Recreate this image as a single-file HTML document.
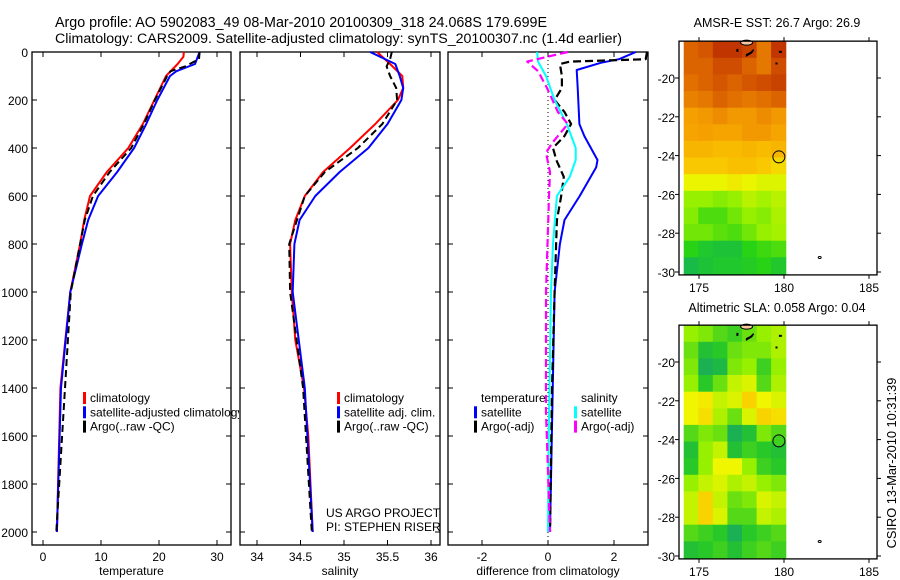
<!DOCTYPE html>
<html><head><meta charset="utf-8"><style>
html,body{margin:0;padding:0;background:#fff;}
svg{display:block;font-family:"Liberation Sans",sans-serif;}
</style></head><body>
<svg id="fig" width="900" height="580" viewBox="0 0 900 580">
<defs><clipPath id="legclip"><rect x="0" y="0" width="239" height="580"/></clipPath></defs>
<text x="55" y="27" font-size="14.3">Argo profile: AO 5902083_49 08-Mar-2010 20100309_318 24.068S 179.699E</text>
<text x="55" y="43" font-size="14.2">Climatology: CARS2009. Satellite-adjusted climatology: synTS_20100307.nc (1.4d earlier)</text>
<text x="777" y="27" font-size="12.5" text-anchor="middle">AMSR-E SST: 26.7 Argo: 26.9</text>
<text x="777" y="312" font-size="12.5" text-anchor="middle">Altimetric SLA: 0.058 Argo: 0.04</text>
<text transform="translate(896,463) rotate(-90)" font-size="12.8" text-anchor="middle">CSIRO 13-Mar-2010 10:31:39</text>
</svg>
<script>
// ---- data ----
const depthTicks = [0,200,400,600,800,1000,1200,1400,1600,1800,2000];
const tempTicks = [0,10,20,30];
const salTicks = [34,34.5,35,35.5,36];
const diffTicks = [-2,0,2];
const lonTicks = [175,180,185];
const latTicks = [20,22,24,26,28,30];

const tClimDepth = [0,20,50,100,200,300,400,500,600,700,800,1000,1400,2000];
const tClim      = [24.3,24.2,23.2,21.2,19.2,17.2,14.7,11,8.1,7.1,6.4,4.7,3.0,2.4];
const tSatDepth  = [0,50,80,100,200,300,400,500,600,700,800,1000,1400,2000];
const tSat       = [27,26.2,23,21.9,19.7,17.8,15.7,12.8,9.5,7.8,6.7,4.7,3.1,2.4];
const tArgoDepth = [0,30,60,80,100,200,300,400,500,600,700,800,1000,2000];
const tArgo      = [27,26.9,24.5,22,21.4,19.3,17.4,15.2,11.5,8.6,7.2,6.4,4.8,2.3];

const sClimDepth = [0,50,100,150,200,300,400,500,600,700,800,1000,1200,1400,1600,2000];
const sClim      = [35.38,35.53,35.67,35.68,35.62,35.36,35.07,34.76,34.55,34.44,34.38,34.40,34.44,34.54,34.59,34.64];
const sSatDepth  = [0,50,100,150,200,300,400,500,600,700,800,1000,1400,2000];
const sSat       = [35.3,35.59,35.64,35.68,35.66,35.5,35.28,34.95,34.67,34.49,34.43,34.41,34.55,34.64];
const sArgoDepth = [0,30,60,100,150,200,300,400,500,600,800,1000,1400,2000];
const sArgo      = [35.55,35.53,35.49,35.53,35.6,35.61,35.44,35.16,34.78,34.55,34.37,34.38,34.53,34.63];

const dTSatDepth = [0,30,45,75,150,300,350,450,480,600,700,800,1000,2000];
const dTSat      = [2.66,2.15,1.6,0.87,0.9,0.95,1.1,1.5,1.46,0.96,0.5,0.36,0.2,0.06];
const dTArgoDepth= [0,30,40,50,100,150,200,250,300,350,400,450,520,600,700,1000,1400,2000];
const dTArgo     = [3,2.96,0.66,0.36,0.42,0.42,0.2,0.5,0.7,0.5,0.15,0.25,0.48,0.4,0.27,0.2,0.12,0.06];
const dSSatDepth = [0,40,100,200,300,400,450,520,600,800,1000,1600,2000];
const dSSat      = [-0.33,-0.3,-0.06,0.2,0.57,0.84,0.84,0.66,0.27,0.15,0.09,0.02,0];
const dSArgoDepth= [0,20,40,80,150,250,300,380,420,500,600,1000,1500,2000];
const dSArgo     = [0.6,-0.03,-0.63,-0.3,-0.03,0.3,0.6,0.12,-0.06,0.06,0.03,-0.06,-0.06,0.06];

const sstGrid = [
[.85,.88,.95,.95,.92,.8,.95],[.85,.85,.9,.9,.85,.8,.9],[.82,.85,.88,.85,.88,.9,.92],
[.78,.8,.85,.82,.8,.82,.85],[.7,.72,.75,.72,.72,.75,.72],[.68,.7,.68,.68,.72,.72,.68],
[.62,.62,.6,.6,.62,.6,.62],[.55,.55,.55,.58,.58,.55,.5],[.42,.42,.42,.45,.42,.4,.4],
[.3,.3,.28,.3,.35,.32,.35],[.28,.2,.2,.25,.3,.28,.33],[.25,.25,.22,.2,.25,.3,.32],
[.15,.1,.08,.08,.15,.18,.2],[.05,.08,.1,.1,.12,.15,.1]];
const slaGrid = [
[.5,.45,.35,.3,.4,.5,.55],[.4,.2,.25,.4,.45,.45,.55],[.45,.1,.15,.45,.5,.3,.5],
[.5,.25,.4,.6,.65,.35,.55],[.7,.75,.6,.65,.85,.7,.65],[.7,.8,.55,.4,.65,.85,.8],
[.35,.45,.4,.1,.2,.45,.35],[.2,.5,.6,.2,.3,.25,.2],[.25,.5,.7,.7,.5,.3,.25],
[.5,.6,.65,.55,.6,.5,.45],[.6,.85,.6,.4,.45,.65,.6],[.6,.85,.65,.35,.35,.6,.55],
[.35,.3,.25,.1,.25,.3,.35],[.2,.25,.3,.2,.3,.35,.3]];
const argoLon = 179.699, argoLat = 24.068;

// ---- drawing ----
const NS='http://www.w3.org/2000/svg';
const svg=document.getElementById('fig');
function mk(tag,attrs,parent){const e=document.createElementNS(NS,tag);for(const k in attrs)e.setAttribute(k,attrs[k]);(parent||svg).appendChild(e);return e;}
const yD = d => 52 + d*0.24;
const PT=545;

function panel(name,x0,x1,xs,ticks,label,leftLabels){
  const g=mk('g',{});
  
  
  const box=mk('rect',{x:x0,y:52,width:x1-x0,height:PT-52,fill:'none',stroke:'#000','stroke-width':1.3},g);
  
  
  depthTicks.forEach(d=>{
    const y=yD(d);
    mk('line',{x1:x0,x2:x0+5,y1:y,y2:y,stroke:'#000'},g);
    mk('line',{x1:x1-5,x2:x1,y1:y,y2:y,stroke:'#000'},g);
    if(leftLabels){const t=mk('text',{x:x0-4,y:y+5,'font-size':12,'text-anchor':'end'},g);t.textContent=d;
      
      }
  });
  ticks.forEach(v=>{
    const x=xs(v);
    mk('line',{x1:x,x2:x,y1:PT,y2:PT-5,stroke:'#000'},g);
    mk('line',{x1:x,x2:x,y1:52,y2:57,stroke:'#000'},g);
    const t=mk('text',{x:x,y:PT+16,'font-size':12,'text-anchor':'middle'},g);t.textContent=v;
    
    
  });
  const lt=mk('text',{x:(x0+x1)/2,y:PT+30,'font-size':12,'text-anchor':'middle'},g);lt.textContent=label;
  
  
}
function line(xs,vals,depths,color,dash,name,w){
  const p=vals.map((v,i)=>xs(v).toFixed(1)+','+yD(depths[i]).toFixed(1)).join(' ');
  const e=mk('polyline',{points:p,fill:'none',stroke:color,'stroke-width':w||2,'stroke-dasharray':dash||'none','stroke-linejoin':'round'});
  
  
}
function legend(x,y,items,clip){
  const g=mk('g',clip?{'clip-path':'url(#legclip)'}:{});
  
  
  items.forEach((it,i)=>{
    const yy=y+i*14.3;
    if(it.c){const r=mk('rect',{x:x,y:yy-10,width:3,height:12,fill:it.c},g);
      
      }
    const t=mk('text',{x:x+7,y:yy,'font-size':12},g);t.textContent=it.t;
    
    
  });
}

const xT=v=>43+v*5.8, xS=v=>257+(v-34)*87, xDf=v=>548+v*33;
panel('temperature-panel',32,231,xT,tempTicks,'temperature',true);
panel('salinity-panel',240,440,xS,salTicks,'salinity',false);
panel('difference-panel',448,648,xDf,diffTicks,'difference from climatology',false);

line(xT,tClim,tClimDepth,'#f00',null,'temp-climatology-line');
line(xT,tSat,tSatDepth,'#00f',null,'temp-satellite-line');
line(xT,tArgo,tArgoDepth,'#000','7,4','temp-argo-line');
line(xS,sClim,sClimDepth,'#f00',null,'sal-climatology-line');
line(xS,sSat,sSatDepth,'#00f',null,'sal-satellite-line');
line(xS,sArgo,sArgoDepth,'#000','7,4','sal-argo-line');
const zl=mk('line',{x1:xDf(0),x2:xDf(0),y1:52,y2:PT,stroke:'#000','stroke-dasharray':'1,3'});


line(xDf,dTSat,dTSatDepth,'#00f',null,'diff-temp-satellite-line');
line(xDf,dTArgo,dTArgoDepth,'#000','8,4','diff-temp-argo-line',2.2);
line(xDf,dSSat,dSSatDepth,'#0ff',null,'diff-sal-satellite-line');
line(xDf,dSArgo,dSArgoDepth,'#f0f','8,4','diff-sal-argo-line',2.2);

legend(83,402,[{c:'#f00',t:'climatology'},{c:'#00f',t:'satellite-adjusted climatology'},{c:'#000',t:'Argo(..raw -QC)'}],true);
legend(337,402,[{c:'#f00',t:'climatology'},{c:'#00f',t:'satellite adj. clim.'},{c:'#000',t:'Argo(..raw -QC)'}]);
legend(474,402,[{t:'temperature'},{c:'#00f',t:'satellite'},{c:'#000',t:'Argo(-adj)'}]);
legend(574,402,[{t:'salinity'},{c:'#0ff',t:'satellite'},{c:'#f0f',t:'Argo(-adj)'}]);
const p1=mk('text',{x:326,y:517,'font-size':12});p1.textContent='US ARGO PROJECT';


const p2=mk('text',{x:326,y:531,'font-size':12});p2.textContent='PI: STEPHEN RISER';



// maps
function lerpC(stops,v){
  for(let i=0;i<stops.length-1;i++){const a=stops[i],b=stops[i+1];
    if(v<=b[0]){const t=(v-a[0])/(b[0]-a[0]);return 'rgb('+[1,2,3].map(k=>Math.round(a[k]+(b[k]-a[k])*t)).join(',')+')';}}
  const l=stops[stops.length-1];return 'rgb('+l[1]+','+l[2]+','+l[3]+')';
}
const sstStops=[[0,16,176,96],[0.15,40,210,20],[0.3,150,240,0],[0.42,235,245,0],[0.55,250,200,0],[0.7,245,160,0],[0.85,220,100,0],[1,180,30,0]];
const slaStops=[[0,16,160,112],[0.25,40,200,40],[0.5,150,240,0],[0.7,240,245,0],[0.9,250,200,0],[1,250,170,0]];
function map(name,top,grid,stops,circleFill){
  const g=mk('g',{});
  
  
  const xL=v=>699+(v-175)*17, yL=v=>top+37+(v-20)*19.4;
  const lon0=174.1, lon1=180.1, lat0=18.1, lat1=30.1;
  const rows=grid.length, cols=grid[0].length;
  const cw=(xL(lon1)-xL(lon0))/cols, ch=(yL(lat1)-yL(lat0))/rows;
  grid.forEach((row,r)=>row.forEach((v,c)=>{
    const cell=mk('rect',{x:(xL(lon0)+c*cw).toFixed(1),y:(yL(lat0)+r*ch).toFixed(1),width:(cw+0.6).toFixed(1),height:(ch+0.6).toFixed(1),fill:lerpC(stops,v)},g);
    
    
  }));
  mk('ellipse',{cx:xL(177.8),cy:yL(lat0)+1.5,rx:6,ry:2.5,fill:'#f8c8a0',stroke:'#000','stroke-width':1},g);
  mk('path',{d:`M${xL(177.8)} ${yL(18.8)} l4 -2 l3 -3 l-2 3 l-5 3 z`,fill:'#000',stroke:'#000','stroke-width':1.5},g);
  mk('rect',{x:xL(179.7),y:yL(18.6),width:3,height:2,fill:'#000'},g);
  mk('rect',{x:xL(179.5),y:yL(19.2),width:2,height:2,fill:'#000'},g);
  mk('rect',{x:xL(177.2),y:yL(18.5),width:2,height:3,fill:'#000'},g);
  mk('ellipse',{cx:xL(182.1),cy:yL(29.25),rx:1.5,ry:1,fill:'none',stroke:'#000'},g);
  const fr=mk('rect',{x:679,y:yL(lat0),width:198,height:yL(30.15)-yL(lat0),fill:'none',stroke:'#000','stroke-width':1.3},g);
  
  
  const yb=yL(30.15);
  latTicks.forEach(v=>{const y=yL(v);
    mk('line',{x1:679,x2:675,y1:y,y2:y,stroke:'#000'},g);mk('line',{x1:877,x2:881,y1:y,y2:y,stroke:'#000'},g);
    const t=mk('text',{x:675,y:y+5,'font-size':12,'text-anchor':'end'},g);t.textContent='-'+v;
    
    });
  lonTicks.forEach(v=>{const x=xL(v);
    mk('line',{x1:x,x2:x,y1:yb,y2:yb+4,stroke:'#000'},g);mk('line',{x1:x,x2:x,y1:yL(lat0),y2:yL(lat0)-4,stroke:'#000'},g);
    const t=mk('text',{x:x,y:yb+17,'font-size':12,'text-anchor':'middle'},g);t.textContent=v;
    
    });
  const c=mk('circle',{cx:xL(argoLon),cy:yL(argoLat),r:6,fill:circleFill,stroke:'#000','stroke-width':1},g);
  
  
}
map('sst-map',41,sstGrid,sstStops,'none');
map('sla-map',325,slaGrid,slaStops,'#40d020');
</script>
</body></html>
